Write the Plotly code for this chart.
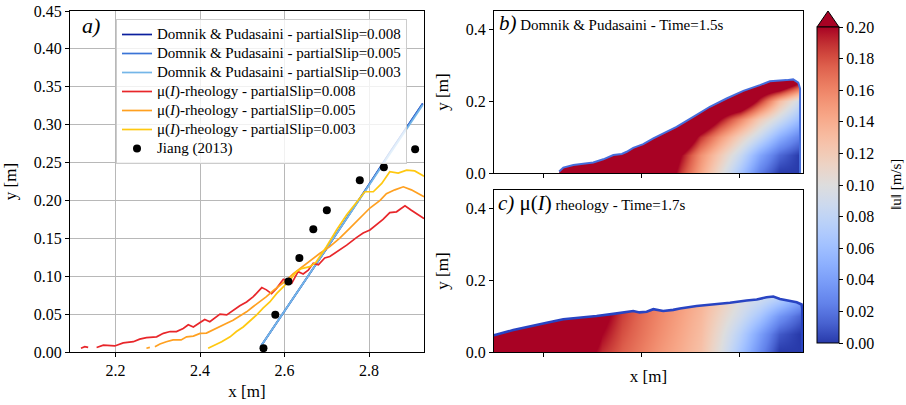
import plotly.graph_objects as go

# ---------------- data: panel a ----------------
dp008_x = [2.543, 2.600, 2.700, 2.800, 2.850, 2.927]
dp008_y = [0.007, 0.054, 0.137, 0.221, 0.264, 0.328]
dp005_x = [2.543, 2.600, 2.700, 2.800, 2.850, 2.927]
dp005_y = [0.007, 0.054, 0.137, 0.221, 0.264, 0.328]
dp003_x = [2.543, 2.600, 2.700, 2.800, 2.850, 2.927]
dp003_y = [0.007, 0.054, 0.137, 0.220, 0.262, 0.326]

mu008_x = [2.118, 2.127, 2.135, None, 2.155, 2.171, 2.198, 2.218, 2.242, 2.257, 2.273, 2.297, 2.313,
           2.329, 2.344, 2.360, 2.372, 2.384, 2.400, 2.411, 2.423, 2.447, 2.463, 2.478, 2.494, 2.510,
           2.526, 2.546, 2.557, 2.569, 2.581, 2.597, 2.609, 2.617, 2.632, 2.644, 2.656, 2.668, 2.680,
           2.695, 2.707, 2.723, 2.747, 2.770, 2.786, 2.802, 2.817, 2.833, 2.849, 2.865, 2.875, 2.885,
           2.900, 2.912, 2.924, 2.930]
mu008_y = [0.005, 0.007, 0.006, None, 0.006, 0.009, 0.008, 0.012, 0.0136, 0.017, 0.019, 0.020, 0.0246,
           0.027, 0.027, 0.031, 0.036, 0.033, 0.039, 0.043, 0.040, 0.050, 0.049, 0.055, 0.061, 0.066,
           0.073, 0.085, 0.082, 0.077, 0.084, 0.096, 0.093, 0.091, 0.106, 0.103, 0.108, 0.117, 0.115,
           0.124, 0.126, 0.132, 0.141, 0.151, 0.157, 0.161, 0.168, 0.175, 0.184, 0.185, 0.189, 0.193,
           0.187, 0.183, 0.178, 0.176]

mu005_x = [2.273, 2.281, None, 2.293, 2.305, 2.320, 2.336, 2.355, 2.368, 2.384, 2.400, 2.415, 2.431,
           2.447, 2.463, 2.478, 2.494, 2.510, 2.526, 2.541, 2.557, 2.573, 2.589, 2.605, 2.620, 2.636,
           2.652, 2.668, 2.683, 2.707, 2.730, 2.754, 2.778, 2.802, 2.826, 2.841, 2.861, 2.881, 2.900,
           2.916, 2.930]
mu005_y = [0.005, 0.006, None, 0.007, 0.0105, 0.0136, 0.016, 0.016, 0.020, 0.021, 0.0246, 0.025, 0.029,
           0.034, 0.038, 0.042, 0.0475, 0.053, 0.060, 0.066, 0.073, 0.081, 0.088, 0.095, 0.103, 0.110,
           0.116, 0.124, 0.130, 0.139, 0.150, 0.163, 0.176, 0.190, 0.200, 0.209, 0.214, 0.218, 0.214,
           0.209, 0.205]

mu003_x = [2.419, 2.435, 2.451, 2.471, 2.486, 2.502, 2.518, 2.534, 2.549, 2.565, 2.581, 2.597, 2.613,
           2.628, 2.640, 2.660, 2.675, 2.699, 2.723, 2.747, 2.770, 2.790, 2.810, 2.830, 2.849, 2.869,
           2.889, 2.908, 2.924, 2.930]
mu003_y = [0.005, 0.009, 0.0136, 0.020, 0.027, 0.033, 0.041, 0.049, 0.058, 0.066, 0.077, 0.086, 0.095,
           0.106, 0.110, 0.1126, 0.119, 0.139, 0.161, 0.181, 0.198, 0.2115, 0.2115, 0.2225, 0.238, 0.236,
           0.240, 0.239, 0.234, 0.232]

jiang_x = [2.550, 2.578, 2.609, 2.635, 2.668, 2.700, 2.778, 2.835, 2.909]
jiang_y = [0.005, 0.049, 0.093, 0.124, 0.162, 0.187, 0.2265, 0.2437, 0.2675]

# ---------------- data: panel b (velocity magnitude) ----------------
fb_x = [2.0, 2.1, 2.2, 2.3, 2.4, 2.5, 2.6, 2.7, 2.8, 2.9, 3.0, 3.1, 3.2, 3.3]
fb_y = [0.0, 0.05, 0.10, 0.15, 0.20, 0.25, 0.30]
fb_u = [
    [0.25, 0.25, 0.25, 0.25, 0.25, 0.25, 0.24, 0.185, 0.145, 0.105, 0.065, 0.025, 0.0, 0.0],
    [0.25, 0.25, 0.25, 0.25, 0.25, 0.25, 0.25, 0.20, 0.155, 0.12, 0.085, 0.045, 0.015, 0.0],
    [0.25, 0.25, 0.25, 0.25, 0.25, 0.25, 0.25, 0.25, 0.19, 0.15, 0.115, 0.085, 0.05, 0.025],
    [0.25, 0.25, 0.25, 0.25, 0.25, 0.25, 0.25, 0.25, 0.25, 0.20, 0.16, 0.12, 0.09, 0.06],
    [0.25, 0.25, 0.25, 0.25, 0.25, 0.25, 0.25, 0.25, 0.25, 0.25, 0.25, 0.19, 0.13, 0.09],
    [0.25, 0.25, 0.25, 0.25, 0.25, 0.25, 0.25, 0.25, 0.25, 0.25, 0.25, 0.25, 0.25, 0.20],
    [0.25, 0.25, 0.25, 0.25, 0.25, 0.25, 0.25, 0.25, 0.25, 0.25, 0.25, 0.25, 0.25, 0.22],
]
sb_x = [2.082, 2.103, 2.154, 2.205, 2.255, 2.306, 2.357, 2.400, 2.425, 2.458, 2.509, 2.560, 2.610,
        2.678, 2.763, 2.847, 2.932, 3.017, 3.101, 3.152, 3.237, 3.270, 3.296, 3.305, 3.305]
sb_y = [0.004, 0.015, 0.022, 0.026, 0.029, 0.038, 0.050, 0.053, 0.059, 0.070, 0.080, 0.096, 0.110,
        0.128, 0.156, 0.184, 0.207, 0.228, 0.244, 0.255, 0.258, 0.260, 0.251, 0.235, 0.0]

# ---------------- data: panel c ----------------
fc_x = [1.8, 1.9, 2.0, 2.1, 2.2, 2.3, 2.4, 2.5, 2.6, 2.7, 2.8, 2.9, 3.0, 3.1, 3.2, 3.3]
fc_y = [0.0, 0.05, 0.10, 0.15]
fc_u = [
    [0.25, 0.25, 0.25, 0.25, 0.22, 0.19, 0.175, 0.163, 0.151, 0.14, 0.127, 0.10, 0.065, 0.03, 0.0, 0.0],
    [0.25, 0.25, 0.25, 0.25, 0.24, 0.20, 0.18, 0.167, 0.155, 0.143, 0.13, 0.105, 0.075, 0.04, 0.01, 0.0],
    [0.25, 0.25, 0.25, 0.25, 0.25, 0.21, 0.185, 0.17, 0.158, 0.146, 0.133, 0.112, 0.09, 0.065, 0.035, 0.015],
    [0.25, 0.25, 0.25, 0.25, 0.25, 0.22, 0.19, 0.175, 0.16, 0.15, 0.137, 0.12, 0.10, 0.09, 0.075, 0.05],
]
sc_x = [1.70, 1.756, 1.849, 1.934, 2.019, 2.103, 2.188, 2.230, 2.272, 2.357, 2.407, 2.458, 2.490,
        2.526, 2.560, 2.610, 2.661, 2.695, 2.780, 2.864, 2.949, 3.034, 3.085, 3.135, 3.169, 3.203,
        3.237, 3.288, 3.313, 3.316, 3.316]
sc_y = [0.044, 0.047, 0.061, 0.072, 0.081, 0.091, 0.095, 0.097, 0.100, 0.106, 0.109, 0.114, 0.110,
        0.112, 0.119, 0.114, 0.117, 0.121, 0.128, 0.132, 0.137, 0.143, 0.146, 0.152, 0.154, 0.147,
        0.143, 0.138, 0.132, 0.120, 0.0]

cbar_ticks = [0.00, 0.02, 0.04, 0.06, 0.08, 0.10, 0.12, 0.14, 0.16, 0.18, 0.20]

# ---------------- styling ----------------
SERIF = "Liberation Serif, Times New Roman, serif"
W, H = 906, 405

cmap_rgb = [
    (40, 58, 170), (56, 78, 190), (72, 98, 208), (85, 114, 222), (98, 130, 234), (108, 142, 241),
    (119, 154, 247), (130, 165, 251), (141, 176, 254), (152, 185, 255), (163, 194, 255),
    (174, 201, 253), (184, 208, 249), (194, 213, 244), (204, 217, 238), (213, 219, 230),
    (221, 221, 221), (229, 216, 209), (236, 211, 197), (241, 204, 184), (245, 196, 173),
    (247, 187, 160), (247, 177, 148), (247, 166, 135), (244, 154, 123), (241, 141, 111),
    (236, 127, 99), (229, 112, 88), (222, 96, 77), (211, 76, 64), (198, 55, 54), (184, 30, 44),
    (168, 2, 36)]
n = len(cmap_rgb) - 1
colorscale = [[i / n, "rgb(%d,%d,%d)" % c] for i, c in enumerate(cmap_rgb)]


def px(xp):
    return xp / W


def py(yp):
    return (H - yp) / H


def leg(txt):
    return '<span style="font-size:15px">%s</span>' % txt


fig = go.Figure()

# panel a lines
line_specs = [
    (dp008_x, dp008_y, "Domnik &amp; Pudasaini - partialSlip=0.008", "#0b1f9e"),
    (dp005_x, dp005_y, "Domnik &amp; Pudasaini - partialSlip=0.005", "#3a74d6"),
    (dp003_x, dp003_y, "Domnik &amp; Pudasaini - partialSlip=0.003", "#74b6e8"),
    (mu008_x, mu008_y, "μ(<i>I</i>)-rheology - partialSlip=0.008", "#e8262a"),
    (mu005_x, mu005_y, "μ(<i>I</i>)-rheology - partialSlip=0.005", "#ffa020"),
    (mu003_x, mu003_y, "μ(<i>I</i>)-rheology - partialSlip=0.003", "#ffc810"),
]
for xs, ys, name, col in line_specs:
    fig.add_trace(go.Scatter(x=xs, y=ys, mode="lines", name=leg(name), line=dict(color=col, width=1.7),
                             connectgaps=False, xaxis="x", yaxis="y"))
fig.add_trace(go.Scatter(x=jiang_x, y=jiang_y, mode="markers", name=leg("Jiang (2013)"),
                         marker=dict(color="black", size=8), xaxis="x", yaxis="y"))

# panel b
fig.add_trace(go.Heatmap(x=fb_x, y=fb_y, z=fb_u, coloraxis="coloraxis", zsmooth="best",
                         xaxis="x2", yaxis="y2", showlegend=False, hoverinfo="skip"))
fig.add_trace(go.Scatter(x=[1.70, sb_x[0]] + sb_x + [3.40, 3.40, 1.70],
                         y=[-0.02, -0.02] + sb_y + [-0.02, 0.5, 0.5],
                         fill="toself", fillcolor="white", mode="none", showlegend=False,
                         hoverinfo="skip", xaxis="x2", yaxis="y2"))
fig.add_trace(go.Scatter(x=sb_x, y=sb_y, mode="lines", line=dict(color="rgb(70,110,220)", width=2.0),
                         showlegend=False, hoverinfo="skip", xaxis="x2", yaxis="y2"))

# panel c
fig.add_trace(go.Heatmap(x=fc_x, y=fc_y, z=fc_u, coloraxis="coloraxis", zsmooth="best",
                         xaxis="x3", yaxis="y3", showlegend=False, hoverinfo="skip"))
fig.add_trace(go.Scatter(x=sc_x + [3.40, 3.40, 1.70],
                         y=sc_y + [-0.02, 0.5, 0.5],
                         fill="toself", fillcolor="white", mode="none", showlegend=False,
                         hoverinfo="skip", xaxis="x3", yaxis="y3"))
fig.add_trace(go.Scatter(x=sc_x, y=sc_y, mode="lines", line=dict(color="rgb(40,68,195)", width=2.6),
                         showlegend=False, hoverinfo="skip", xaxis="x3", yaxis="y3"))

axis_common = dict(showline=True, linecolor="black", linewidth=1, mirror=True, ticks="outside",
                   tickcolor="black", ticklen=4, zeroline=False, automargin=False,
                   tickfont=dict(family=SERIF, size=16, color="black"))

fig.update_layout(
    width=W, height=H, margin=dict(l=0, r=0, t=0, b=0),
    paper_bgcolor="white", plot_bgcolor="white",
    font=dict(family=SERIF, color="black"),
    xaxis=dict(domain=[px(70), px(424)], range=[2.092, 2.930], anchor="y",
               tickvals=[2.2, 2.4, 2.6, 2.8], ticktext=["2.2", "2.4", "2.6", "2.8"],
               showgrid=True, gridcolor="#b8b8b8", gridwidth=1,
               title=dict(text="x [m]", font=dict(family=SERIF, size=17), standoff=6), **axis_common),
    yaxis=dict(domain=[py(352), py(11)], range=[0, 0.45], anchor="x",
               tickvals=[0, 0.05, 0.10, 0.15, 0.20, 0.25, 0.30, 0.35, 0.40, 0.45],
               tickformat=".2f", showgrid=True, gridcolor="#b8b8b8", gridwidth=1,
               title=dict(text="y [m]", font=dict(family=SERIF, size=17), standoff=12), **axis_common),
    xaxis2=dict(domain=[px(494), px(803)], range=[1.751, 3.320], anchor="y2",
                tickvals=[2.0, 2.5, 3.0], showticklabels=False, showgrid=False, **axis_common),
    yaxis2=dict(domain=[py(173), py(11)], range=[0, 0.45], anchor="x2",
                tickvals=[0, 0.2, 0.4], tickformat=".1f", showgrid=False,
                title=dict(text="y [m]", font=dict(family=SERIF, size=17), standoff=12), **axis_common),
    xaxis3=dict(domain=[px(494), px(803)], range=[1.751, 3.320], anchor="y3",
                tickvals=[2.0, 2.5, 3.0], showticklabels=False, showgrid=False,
                title=dict(text="x [m]", font=dict(family=SERIF, size=17), standoff=14), **axis_common),
    yaxis3=dict(domain=[py(352), py(190)], range=[0, 0.45], anchor="x3",
                tickvals=[0, 0.2, 0.4], tickformat=".1f", showgrid=False,
                title=dict(text="y [m]", font=dict(family=SERIF, size=17), standoff=12), **axis_common),
    coloraxis=dict(colorscale=colorscale, cmin=0, cmax=0.2,
                   colorbar=dict(x=px(817), xanchor="left", xpad=0, ypad=0,
                                 y=py(185), yanchor="middle", len=316, lenmode="pixels",
                                 thickness=22, thicknessmode="pixels",
                                 outlinecolor="black", outlinewidth=1,
                                 tickvals=cbar_ticks, tickformat=".2f", ticks="outside", ticklen=4,
                                 tickcolor="black",
                                 tickfont=dict(family=SERIF, size=16, color="black"))),
    legend=dict(x=px(116), y=py(19), xanchor="left", yanchor="top",
                bgcolor="rgba(255,255,255,0.8)", bordercolor="#cccccc", borderwidth=1,
                font=dict(family=SERIF, size=11, color="black"), tracegroupgap=0, itemwidth=30),
    showlegend=True,
)

# colorbar "extend max" triangle
fig.add_shape(type="path", xref="paper", yref="paper",
              path="M %f %f L %f %f L %f %f Z" % (px(817), py(27), px(828), py(11), px(839), py(27)),
              fillcolor="rgb(168,2,36)", line=dict(color="black", width=1))

# colorbar label
fig.add_annotation(xref="paper", yref="paper", x=px(896), y=py(185), xanchor="center", yanchor="middle",
                   text="‖u‖ [m/s]", textangle=-90, showarrow=False,
                   font=dict(family=SERIF, size=15, color="black"))

# panel labels
fig.add_annotation(xref="paper", yref="paper", x=px(80), y=py(25), xanchor="left", yanchor="middle",
                   text="<i>a)</i>", showarrow=False, font=dict(family=SERIF, size=22, color="black"))
fig.add_annotation(xref="paper", yref="paper", x=px(497), y=py(23), xanchor="left", yanchor="middle",
                   text='<span style="font-size:21px"><i>b)</i></span> Domnik &amp; Pudasaini - Time=1.5s',
                   showarrow=False, font=dict(family=SERIF, size=15, color="black"))
fig.add_annotation(xref="paper", yref="paper", x=px(496), y=py(203), xanchor="left", yanchor="middle",
                   text='<span style="font-size:21px"><i>c)</i> μ(<i>I</i>)</span> rheology - Time=1.7s',
                   showarrow=False, font=dict(family=SERIF, size=15, color="black"))

fig.write_html("out.html")
